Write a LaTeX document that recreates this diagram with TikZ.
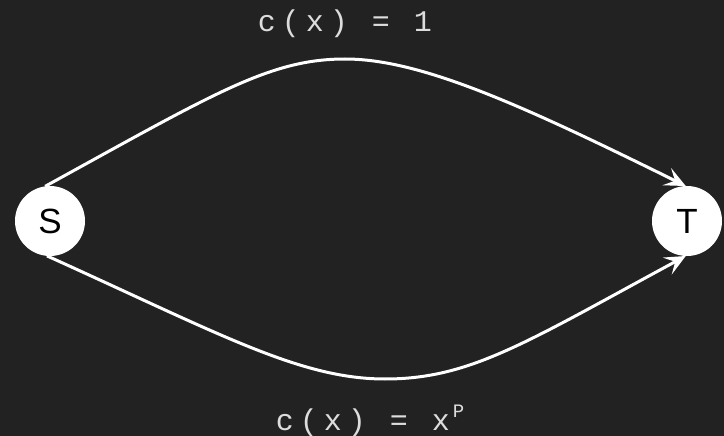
\documentclass[tikz,border=0pt]{standalone}
\usepackage{fontspec}
\setmainfont{Liberation Sans}
\newfontfamily\labmono[LetterSpace=20]{Liberation Mono}
\usetikzlibrary{arrows.meta}
\definecolor{bgdark}{HTML}{222222}
\definecolor{labgray}{HTML}{DDDDDD}
\begin{document}
\begin{tikzpicture}[x=1pt,y=-1pt,
  vertex/.style={circle,fill=white,minimum size=70pt,inner sep=0pt,outer sep=0pt,
    font=\fontsize{35}{35}\selectfont,text=black},
  edge/.style={draw=white,line width=3pt,-{Stealth[length=21pt,width=19pt,inset=9pt]}},
  costlab/.style={text=labgray,font=\labmono\fontsize{30}{30}\selectfont,anchor=base,inner sep=0pt}]
\fill[bgdark] (0,0) rectangle (724,436);
\useasboundingbox (0,0) rectangle (724,436);
\node[vertex] (S) at (50,221) {S};
\node[vertex] (T) at (687,221) {T};
\node[costlab] (ctop) at (345,32) {c(x) = 1};
\node[costlab] (cbot) at (370,430) {c(x) = x\hspace{3pt}\raisebox{13pt}{\fontsize{19}{19}\selectfont P}};
\draw[edge] (S.98) .. controls (215,93) and (270,59) .. (345,59)
  .. controls (420,59) and (520,104) .. (T.92);
\draw[edge] (S.265) .. controls (220,334) and (300,379) .. (385,379)
  .. controls (470,379) and (525,343) .. (T.268);
\end{tikzpicture}
\end{document}
